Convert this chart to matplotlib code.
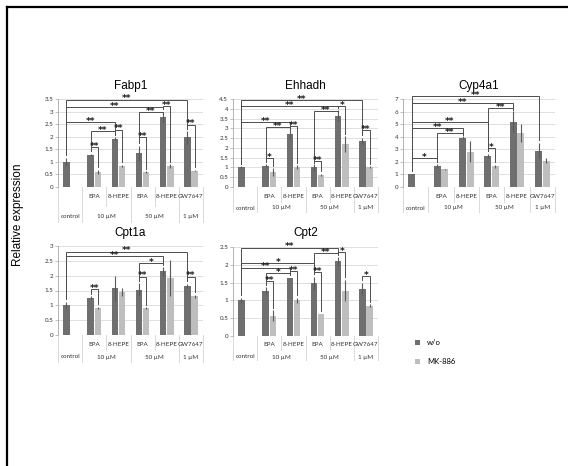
import matplotlib
matplotlib.use("Agg")
import matplotlib.pyplot as plt
from matplotlib.patches import Patch
from matplotlib.lines import Line2D
import matplotlib.transforms as mtransforms

W, H = 568, 466

# ---- data ---------------------------------------------------------------
groups_row1 = ["", "EPA", "8-HEPE", "EPA", "8-HEPE", "GW7647"]
groups_row2 = ["control", "10 µM", "50 µM", "1 µM"]
row2_pos = [0, 1.5, 3.5, 5]
series_names = ["w/o", "MK-886"]

genes = ["Fabp1", "Ehhadh", "Cyp4a1", "Cpt1a", "Cpt2"]

fabp1_wo = [1.0, 1.27, 1.92, 1.35, 2.78, 1.97]
fabp1_wo_err = [0.15, 0.05, 0.05, 0.30, 0.20, 0.25]
fabp1_mk = [0.60, 0.83, 0.58, 0.83, 0.65]
fabp1_mk_err = [0.08, 0.04, 0.04, 0.07, 0.03]

ehhadh_wo = [1.0, 1.08, 2.70, 1.00, 3.65, 2.35]
ehhadh_wo_err = [0.05, 0.08, 0.30, 0.20, 0.30, 0.15]
ehhadh_mk = [0.75, 1.02, 0.63, 2.20, 1.00]
ehhadh_mk_err = [0.20, 0.08, 0.05, 0.40, 0.05]

cyp4a1_wo = [1.0, 1.65, 3.92, 2.48, 5.20, 2.90]
cyp4a1_wo_err = [0.05, 0.15, 0.10, 0.15, 0.85, 0.60]
cyp4a1_mk = [1.40, 2.80, 1.65, 4.30, 2.10]
cyp4a1_mk_err = [0.05, 0.85, 0.12, 0.70, 0.20]

cpt1a_wo = [1.0, 1.25, 1.58, 1.52, 2.15, 1.65]
cpt1a_wo_err = [0.12, 0.05, 0.42, 0.22, 0.15, 0.08]
cpt1a_mk = [0.90, 1.45, 0.90, 1.92, 1.30]
cpt1a_mk_err = [0.04, 0.12, 0.03, 0.62, 0.06]

cpt2_wo = [1.0, 1.27, 1.62, 1.48, 2.10, 1.33]
cpt2_wo_err = [0.07, 0.10, 0.02, 0.18, 0.12, 0.17]
cpt2_mk = [0.57, 1.00, 0.62, 1.27, 0.85]
cpt2_mk_err = [0.15, 0.07, 0.01, 0.30, 0.04]

# significance brackets: (group, series), (group, series), height, label
fabp1_sig = [((0, 0), (5, 0), 3.47, "**"), ((0, 0), (4, 0), 3.18, "**"),
             ((3, 0), (4, 0), 2.98, "**"), ((4, 0), (4, 1), 3.21, "**"),
             ((0, 0), (2, 0), 2.57, "**"), ((1, 0), (2, 0), 2.21, "**"),
             ((2, 0), (2, 1), 2.28, "**"), ((1, 0), (1, 1), 1.59, "**"),
             ((3, 0), (3, 1), 1.99, "**"), ((5, 0), (5, 1), 2.48, "**")]
ehhadh_sig = [((0, 0), (5, 0), 4.43, "**"), ((0, 0), (4, 0), 4.13, "**"),
              ((3, 0), (4, 0), 3.87, "**"), ((4, 0), (4, 1), 4.13, "*"),
              ((0, 0), (2, 0), 3.32, "**"), ((1, 0), (2, 0), 3.07, "**"),
              ((2, 0), (2, 1), 3.10, "**"), ((1, 0), (1, 1), 1.48, "*"),
              ((3, 0), (3, 1), 1.31, "**"), ((5, 0), (5, 1), 2.90, "**")]
cyp4a1_sig = [((0, 0), (5, 0), 7.21, "**"), ((0, 0), (4, 0), 6.68, "**"),
              ((3, 0), (4, 0), 6.28, "**"), ((0, 0), (3, 0), 5.14, "**"),
              ((0, 0), (2, 0), 4.69, "**"), ((1, 0), (2, 0), 4.30, "**"),
              ((0, 0), (1, 0), 2.31, "*"), ((3, 0), (3, 1), 3.10, "*")]
cpt1a_sig = [((0, 0), (5, 0), 2.81, "**"), ((0, 0), (4, 0), 2.66, "**"),
             ((3, 0), (4, 0), 2.42, "*"), ((1, 0), (1, 1), 1.54, "**"),
             ((3, 0), (3, 1), 1.97, "**"), ((5, 0), (5, 1), 1.97, "**")]
cpt2_sig = [((0, 0), (4, 0), 2.48, "**"), ((3, 0), (4, 0), 2.33, "**"),
            ((4, 0), (4, 1), 2.36, "*"), ((0, 0), (3, 0), 2.05, "*"),
            ((0, 0), (2, 0), 1.92, "**"), ((1, 0), (2, 0), 1.77, "*"),
            ((1, 0), (1, 1), 1.54, "**"), ((2, 0), (2, 1), 1.83, "**"),
            ((3, 0), (3, 1), 1.80, "**"), ((5, 0), (5, 1), 1.69, "*")]

ymax_list = [3.5, 4.5, 7, 3, 2.5]
ystep_list = [0.5, 0.5, 1, 0.5, 0.5]

# panel boxes in pixels: left, right, top, bottom, row1 y, row2 y,
# short-line end, full-line end, title y
boxes = [
    (58, 203, 99, 187, 197, 216, 206, 222, 86),
    (233, 378, 99, 187, 197, 208, 202, 212, 86),
    (403, 555, 99, 187, 197, 208, 202, 212, 86),
    (58, 203, 246, 335, 344, 357, 350, 362, 233),
    (233, 378, 247, 336, 344, 357, 350, 360, 233),
]

panels = [
    (fabp1_wo, fabp1_wo_err, fabp1_mk, fabp1_mk_err, fabp1_sig),
    (ehhadh_wo, ehhadh_wo_err, ehhadh_mk, ehhadh_mk_err, ehhadh_sig),
    (cyp4a1_wo, cyp4a1_wo_err, cyp4a1_mk, cyp4a1_mk_err, cyp4a1_sig),
    (cpt1a_wo, cpt1a_wo_err, cpt1a_mk, cpt1a_mk_err, cpt1a_sig),
    (cpt2_wo, cpt2_wo_err, cpt2_mk, cpt2_mk_err, cpt2_sig),
]

# ---- style --------------------------------------------------------------
DARK = "#6f6f6f"
LIGHT = "#bebebe"
ERR = "#5a5a5a"
GRID = "#d9d9d9"
AXIS = "#a6a6a6"
SIG = "#4d4d4d"
SMALL_FONT = ["Lato", "DejaVu Sans"]
BIG_FONT = ["Liberation Sans", "DejaVu Sans"]
SMALL = 4.5
OFF = 0.15
BW = 0.27

fig = plt.figure(figsize=(W / 100, H / 100), dpi=100)


def fy(py):
    return 1 - py / H


for gi, (gene, data, box, ymax, ystep) in enumerate(
        zip(genes, panels, boxes, ymax_list, ystep_list)):
    wo, wo_err, mk, mk_err, sig = data
    l, r, t, b, row1, row2, short_end, full_end, ty = box
    ax = fig.add_axes([l / W, fy(b), (r - l) / W, (b - t) / H])

    xg = list(range(len(wo)))
    x_wo = [x - OFF for x in xg]
    x_mk = [x + OFF for x in xg[1:]]
    ax.bar(x_wo, wo, BW, color=DARK, zorder=2)
    ax.bar(x_mk, mk, BW, color=LIGHT, zorder=2)
    ax.errorbar(x_wo, wo, yerr=wo_err, fmt="none", ecolor=ERR,
                elinewidth=0.8, capsize=0, zorder=3)
    ax.errorbar(x_mk, mk, yerr=mk_err, fmt="none", ecolor=ERR,
                elinewidth=0.8, capsize=0, zorder=3)

    ax.set_xlim(-0.5, 5.5)
    ax.set_ylim(0, ymax)
    n = int(round(ymax / ystep))
    ticks = [k * ystep for k in range(n + 1)]
    ax.set_yticks(ticks)
    ax.set_yticklabels([f"{v:g}" for v in ticks], fontsize=SMALL,
                       family=SMALL_FONT, color="#333333")
    ax.tick_params(axis="y", length=2, width=0.5, color=AXIS, pad=1.5)
    ax.set_xticks([])
    for s in ["top", "right", "bottom"]:
        ax.spines[s].set_visible(False)
    ax.spines["left"].set_color(AXIS)
    ax.spines["left"].set_linewidth(0.6)
    ax.yaxis.grid(True, color=GRID, linewidth=0.6, zorder=0)
    ax.set_axisbelow(True)

    fig.text((l + r) / 2 / W, fy(ty), gene, ha="center", va="center",
             fontsize=8.5, family=BIG_FONT)

    # category table under the axis
    tr = mtransforms.blended_transform_factory(ax.transData, fig.transFigure)
    for xb in [-0.5, 0.5, 2.5, 4.5, 5.5]:
        ax.add_line(Line2D([xb, xb], [fy(b), fy(full_end)], transform=tr,
                           color=GRID, lw=0.7, clip_on=False))
    for xb in [1.5, 3.5]:
        ax.add_line(Line2D([xb, xb], [fy(b), fy(short_end)], transform=tr,
                           color=GRID, lw=0.7, clip_on=False))
    for k, lab in enumerate(groups_row1):
        ax.text(k, fy(row1), lab, transform=tr, ha="center", va="center",
                fontsize=SMALL, family=SMALL_FONT, color="#333333")
    for xp, lab in zip(row2_pos, groups_row2):
        ax.text(xp, fy(row2), lab, transform=tr, ha="center", va="center",
                fontsize=SMALL, family=SMALL_FONT, color="#333333")

    # significance brackets
    def bar_top(g, s):
        if s == 0:
            return g - OFF, wo[g] + wo_err[g]
        return g + OFF, mk[g - 1] + mk_err[g - 1]

    gap = 0.03 * ymax
    for (g1, s1), (g2, s2), lvl, lab in sig:
        x1, t1 = bar_top(g1, s1)
        x2, t2 = bar_top(g2, s2)
        y1 = min(t1 + gap, lvl - 0.02 * ymax)
        y2 = min(t2 + gap, lvl - 0.02 * ymax)
        ax.plot([x1, x1, x2, x2], [y1, lvl, lvl, y2], color=SIG, lw=0.7,
                clip_on=False, zorder=4, solid_joinstyle="miter")
        ax.annotate(lab, ((x1 + x2) / 2, lvl), xytext=(0, -1.2),
                    textcoords="offset points", ha="center", va="baseline",
                    fontsize=6.5, fontweight="bold", color="#1a1a1a",
                    family=["DejaVu Sans"], annotation_clip=False, zorder=5)

fig.text(18 / W, fy(215), "Relative expression", rotation=90, ha="center",
         va="center", fontsize=8.5, family=BIG_FONT)

handles = [Patch(facecolor=DARK, edgecolor="none", label=series_names[0]),
           Patch(facecolor=LIGHT, edgecolor="none", label=series_names[1])]
fig.legend(handles=handles, loc="upper left",
           bbox_to_anchor=(415 / W, fy(339)), frameon=False,
           prop={"family": SMALL_FONT, "size": 5.5},
           handlelength=0.7, handleheight=0.7, handletextpad=0.9,
           labelspacing=1.6, borderpad=0, borderaxespad=0)

# outer frame (left and top edges)
fig.add_artist(Line2D([6.5 / W, 6.5 / W], [0, fy(6.5)], transform=fig.transFigure,
                      color="black", lw=1.6))
fig.add_artist(Line2D([6.5 / W, 1], [fy(6.5), fy(6.5)], transform=fig.transFigure,
                      color="black", lw=1.6))

fig.savefig("out.png", dpi=100, facecolor="white")
